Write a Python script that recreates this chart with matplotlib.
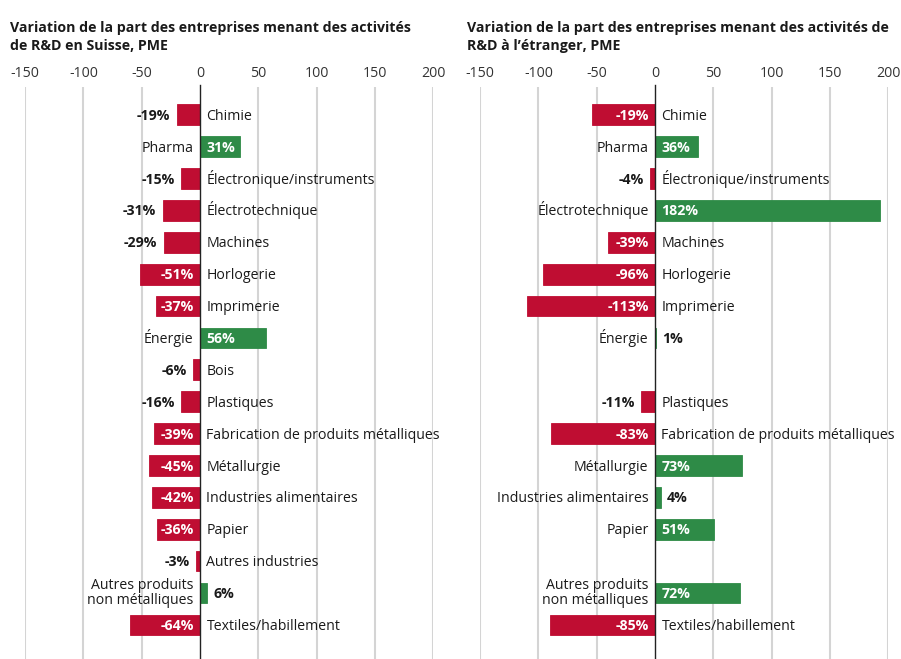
import matplotlib
matplotlib.use("Agg")
import matplotlib.pyplot as plt
import numpy as np

plt.rcParams["font.family"] = ["Open Sans", "DejaVu Sans"]

# categories, top to bottom
categories = [
    "Chimie", "Pharma", "Électronique/instruments", "Électrotechnique",
    "Machines", "Horlogerie", "Imprimerie", "Énergie", "Bois", "Plastiques",
    "Fabrication de produits métalliques", "Métallurgie",
    "Industries alimentaires", "Papier", "Autres industries",
    "Autres produits\nnon métalliques", "Textiles/habillement",
]

# R&D in Switzerland: bar lengths as drawn and printed labels
suisse_bars = [-20, 34, -16, -32, -31, -51, -38, 57, -6, -16, -39, -44, -41, -37, -3, 6, -60]
suisse_labels = [-19, 31, -15, -31, -29, -51, -37, 56, -6, -16, -39, -45, -42, -36, -3, 6, -64]

# R&D abroad (no value for Bois and Autres industries)
etranger_bars = [-54, 37, -4, 193, -40, -96, -110, 1, None, -12, -89, 75, 5, 51, None, 73, -90]
etranger_labels = [-19, 36, -4, 182, -39, -96, -113, 1, None, -11, -83, 73, 4, 51, None, 72, -85]

titles = [
    "Variation de la part des entreprises menant des activités\nde R&D en Suisse, PME",
    "Variation de la part des entreprises menant des activités de\nR&D à l’étranger, PME",
]
xticks = [-150, -100, -50, 0, 50, 100, 150, 200]

RED = "#bf0d32"
GREEN = "#2e8b47"
TEXT = "#1a1a1a"
FS = 10.2

W, H = 901, 659
fig = plt.figure(figsize=(W / 100, H / 100), dpi=100)


def put_label(ax, x, i, s, ha, **kw):
    # single-line labels sit on a baseline so accents don't shift them
    if "\n" in s:
        ax.text(x, i, s, ha=ha, va="center", fontsize=FS, linespacing=0.95, **kw)
    else:
        ax.text(x, i + 0.16, s, ha=ha, va="baseline", fontsize=FS, **kw)


def draw_panel(ax, bars, labels):
    n = len(categories)
    ax.set_xlim(-150, 200)
    ax.set_ylim(n - 1 + 1.07, -0.87)
    ax.xaxis.tick_top()
    ax.set_xticks(xticks)
    ax.set_xticklabels([str(t) for t in xticks], fontsize=FS, color="#333333")
    ax.tick_params(axis="x", length=0, pad=4)
    ax.set_yticks([])
    for s in ax.spines.values():
        s.set_visible(False)
    for t in xticks:
        if t != 0:
            ax.axvline(t, color="#d4d4d4", lw=1.5, zorder=0)
    ax.axvline(0, color="#222222", lw=1.0, zorder=3, ymax=1.004, clip_on=False)

    pad = 5.5  # data units
    for i, (cat, b, lab) in enumerate(zip(categories, bars, labels)):
        if b is None:
            continue
        color = GREEN if b > 0 else RED
        ax.barh(i, b, height=0.65, color=color, edgecolor=color, lw=0.6, zorder=2)
        txt = f"{lab}%"
        inside = abs(b) >= 34
        if b > 0:
            put_label(ax, -pad, i, cat, "right", color=TEXT)
            if inside:
                put_label(ax, pad, i, txt, "left", color="white", fontweight="bold", zorder=4)
            else:
                put_label(ax, b + pad, i, txt, "left", color=TEXT, fontweight="bold", zorder=4)
        else:
            put_label(ax, pad, i, cat, "left", color=TEXT, clip_on=False)
            if inside:
                put_label(ax, -pad, i, txt, "right", color="white", fontweight="bold", zorder=4)
            else:
                put_label(ax, b - pad, i, txt, "right", color=TEXT, fontweight="bold", zorder=4)


top = 87 / H
ax1 = fig.add_axes([25 / W, 0, 408.3 / W, 1 - top])
ax2 = fig.add_axes([480 / W, 0, 408.3 / W, 1 - top])
draw_panel(ax1, suisse_bars, suisse_labels)
draw_panel(ax2, etranger_bars, etranger_labels)

fig.text(10 / W, 1 - 21 / H, titles[0], ha="left", va="top", fontsize=FS,
         fontweight="bold", color=TEXT, linespacing=1.35)
fig.text(467 / W, 1 - 21 / H, titles[1], ha="left", va="top", fontsize=FS,
         fontweight="bold", color=TEXT, linespacing=1.35)

fig.savefig("out.png", dpi=100, facecolor="white")
